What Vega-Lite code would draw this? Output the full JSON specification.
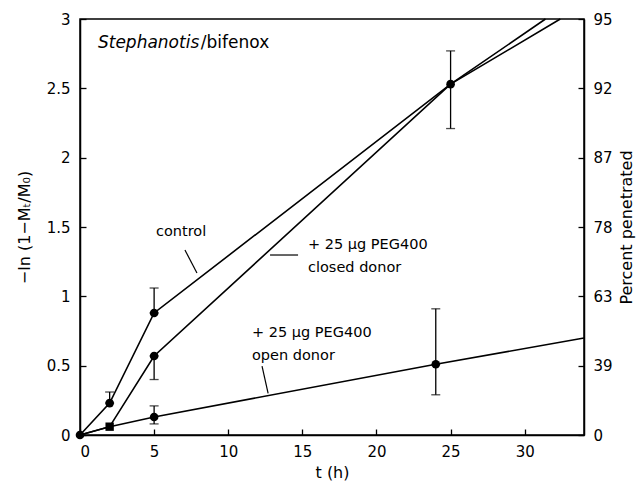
{
  "$schema": "https://vega.github.io/schema/vega-lite/v6.json",
  "width": 504,
  "height": 416,
  "autosize": {"type": "none"},
  "padding": {"left": 80, "top": 19, "right": 60, "bottom": 52},
  "background": "white",
  "config": {
    "font": "DejaVu Sans",
    "view": {"stroke": "black", "strokeWidth": 1.5},
    "axis": {
      "domainColor": "black", "domainWidth": 1.5,
      "tickColor": "black", "tickWidth": 1.3, "tickSize": -6,
      "labelColor": "black", "titleColor": "black",
      "labelFont": "DejaVu Sans", "titleFont": "DejaVu Sans",
      "labelFontSize": 15, "titleFontSize": 16, "titleFontWeight": "normal",
      "grid": false
    }
  },
  "datasets": {
    "lines": [
      {"series": "control", "x": 0, "y": 0},
      {"series": "control", "x": 2, "y": 0.23},
      {"series": "control", "x": 5, "y": 0.88},
      {"series": "control", "x": 25, "y": 2.53},
      {"series": "control", "x": 32.4, "y": 3},
      {"series": "closed", "x": 0, "y": 0},
      {"series": "closed", "x": 2, "y": 0.06},
      {"series": "closed", "x": 5, "y": 0.57},
      {"series": "closed", "x": 25, "y": 2.53},
      {"series": "closed", "x": 31.4, "y": 3},
      {"series": "open", "x": 0, "y": 0},
      {"series": "open", "x": 2, "y": 0.06},
      {"series": "open", "x": 5, "y": 0.13},
      {"series": "open", "x": 24, "y": 0.51},
      {"series": "open", "x": 34, "y": 0.70}
    ],
    "circles": [
      {"series": "all", "x": 0, "y": 0},
      {"series": "control", "x": 2, "y": 0.23},
      {"series": "control", "x": 5, "y": 0.88},
      {"series": "closed", "x": 5, "y": 0.57},
      {"series": "open", "x": 5, "y": 0.13},
      {"series": "open", "x": 24, "y": 0.51},
      {"series": "control/closed", "x": 25, "y": 2.53}
    ],
    "squares": [
      {"series": "closed/open", "x": 2, "y": 0.06}
    ],
    "errors": [
      {"series": "control", "x": 2, "lo": 0.23, "hi": 0.31},
      {"series": "control", "x": 5, "lo": 0.88, "hi": 1.06},
      {"series": "closed", "x": 5, "lo": 0.40, "hi": 0.57},
      {"series": "open", "x": 5, "lo": 0.08, "hi": 0.21},
      {"series": "open", "x": 24, "lo": 0.29, "hi": 0.91},
      {"series": "control/closed", "x": 25, "lo": 2.21, "hi": 2.77}
    ],
    "leaders": [
      {"label": "control", "x": 7.08, "y": 1.334, "x2": 7.89, "y2": 1.168},
      {"label": "closed", "x": 12.82, "y": 1.298, "x2": 14.71, "y2": 1.298},
      {"label": "open", "x": 12.28, "y": 0.497, "x2": 12.69, "y2": 0.30}
    ],
    "centerLabels": [
      {"x": 6.82, "y": 1.464, "text": "control"}
    ],
    "leftLabels": [
      {"x": 15.38, "y": 1.37, "text": "+ 25 µg PEG400"},
      {"x": 15.38, "y": 1.204, "text": "closed donor"},
      {"x": 11.6, "y": 0.735, "text": "+ 25 µg PEG400"},
      {"x": 11.6, "y": 0.57, "text": "open donor"}
    ],
    "titleItalic": [
      {"x": 1.21, "y": 2.826, "text": "Stephanotis"}
    ],
    "titleNormal": [
      {"x": 8.15, "y": 2.826, "text": "/bifenox"}
    ]
  },
  "layer": [
    {
      "encoding": {
        "x": {
          "field": "x", "type": "quantitative",
          "scale": {"domain": [0, 34], "nice": false},
          "axis": {"values": [0, 5, 10, 15, 20, 25, 30], "title": "t (h)", "labelPadding": 15, "titlePadding": 5}
        }
      },
      "layer": [
        {
          "data": {"name": "lines"},
          "mark": {"type": "line", "color": "black", "strokeWidth": 1.6},
          "encoding": {
            "y": {"field": "y", "type": "quantitative", "scale": {"domain": [0, 3], "nice": false},
              "axis": {"values": [0, 0.5, 1, 1.5, 2, 2.5, 3], "format": "~g", "title": "−ln (1−Mₜ/M₀)", "titleColor": "#000000", "labelPadding": 16, "titlePadding": 14}},
            "detail": {"field": "series"}
          }
        },
        {
          "data": {"name": "leaders"},
          "mark": {"type": "rule", "color": "black", "strokeWidth": 1.2},
          "encoding": {
            "y": {"field": "y", "type": "quantitative"},
            "x2": {"field": "x2"},
            "y2": {"field": "y2"}
          }
        },
        {
          "data": {"name": "errors"},
          "mark": {"type": "rule", "color": "black", "strokeWidth": 1.3},
          "encoding": {
            "y": {"field": "lo", "type": "quantitative"},
            "y2": {"field": "hi"}
          }
        },
        {
          "data": {"name": "errors"},
          "mark": {"type": "tick", "color": "black", "orient": "horizontal", "size": 9, "thickness": 1.3},
          "encoding": {"y": {"field": "lo", "type": "quantitative"}}
        },
        {
          "data": {"name": "errors"},
          "mark": {"type": "tick", "color": "black", "orient": "horizontal", "size": 9, "thickness": 1.3},
          "encoding": {"y": {"field": "hi", "type": "quantitative"}}
        },
        {
          "data": {"name": "circles"},
          "mark": {"type": "point", "shape": "circle", "filled": true, "color": "black", "size": 75, "opacity": 1},
          "encoding": {"y": {"field": "y", "type": "quantitative"}}
        },
        {
          "data": {"name": "squares"},
          "mark": {"type": "point", "shape": "square", "filled": true, "color": "black", "size": 70, "opacity": 1},
          "encoding": {"y": {"field": "y", "type": "quantitative"}}
        },
        {
          "data": {"name": "centerLabels"},
          "mark": {"type": "text", "align": "center", "baseline": "middle", "fontSize": 14.5, "color": "black"},
          "encoding": {"y": {"field": "y", "type": "quantitative"}, "text": {"field": "text"}}
        },
        {
          "data": {"name": "leftLabels"},
          "mark": {"type": "text", "align": "left", "baseline": "middle", "fontSize": 14.5, "color": "black"},
          "encoding": {"y": {"field": "y", "type": "quantitative"}, "text": {"field": "text"}}
        },
        {
          "data": {"name": "titleItalic"},
          "mark": {"type": "text", "align": "left", "baseline": "middle", "fontSize": 17, "fontStyle": "italic", "color": "black"},
          "encoding": {"y": {"field": "y", "type": "quantitative"}, "text": {"field": "text"}}
        },
        {
          "data": {"name": "titleNormal"},
          "mark": {"type": "text", "align": "left", "baseline": "middle", "fontSize": 17, "color": "black"},
          "encoding": {"y": {"field": "y", "type": "quantitative"}, "text": {"field": "text"}}
        }
      ]
    },
    {
      "data": {"values": [{"y": 0}, {"y": 3}]},
      "mark": {"type": "point", "opacity": 0},
      "encoding": {
        "y": {
          "field": "y", "type": "quantitative",
          "scale": {"domain": [0, 3], "nice": false},
          "axis": {
            "orient": "right",
            "values": [0, 0.5, 1, 1.5, 2, 2.5, 3],
            "labelExpr": "['0','39','63','78','87','92','95'][round(datum.value*2)]",
            "title": "Percent penetrated",
            "titleAngle": 270,
            "labelPadding": 15,
            "titlePadding": 22
          }
        }
      }
    }
  ],
  "resolve": {"scale": {"y": "independent"}}
}
